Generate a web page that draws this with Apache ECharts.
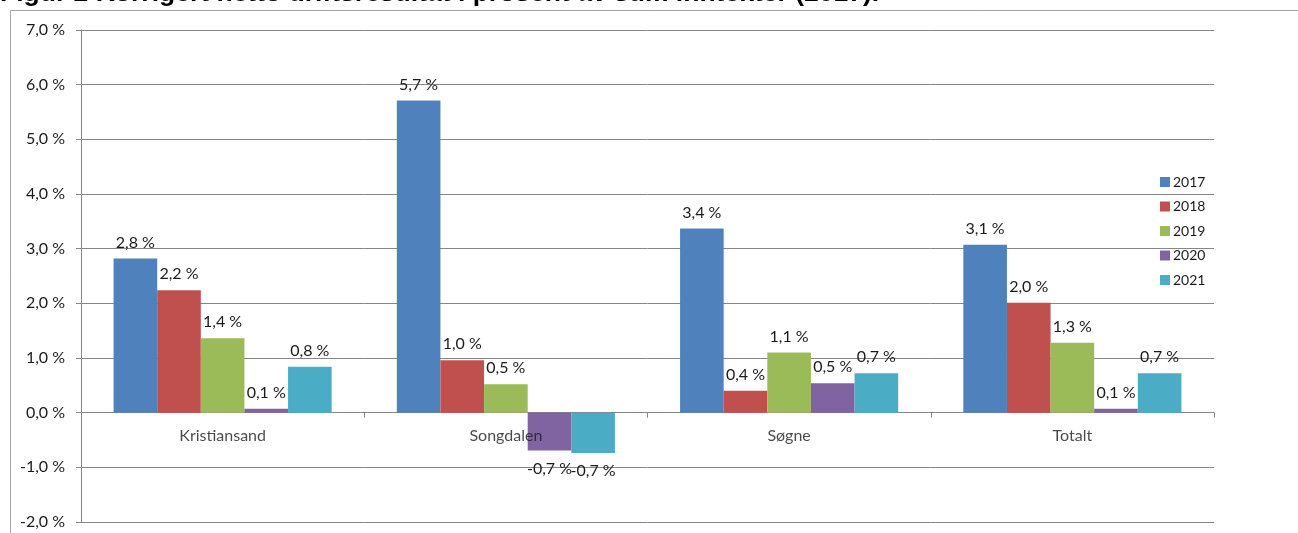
<!DOCTYPE html>
<html>
<head>
<meta charset="utf-8">
<script src="https://cdn.jsdelivr.net/npm/echarts@6/dist/echarts.min.js"></script>
<style>
html,body{margin:0;padding:0;background:#fff;}
#c{width:1298px;height:533px;}
</style>
</head>
<body>
<div id="c"></div>
<script>
const categories = ['Kristiansand', 'Songdalen', 'Søgne', 'Totalt'];
const years = ['2017', '2018', '2019', '2020', '2021'];
const v2017 = [2.82, 5.71, 3.37, 3.07];
const v2018 = [2.24, 0.96, 0.40, 2.01];
const v2019 = [1.36, 0.52, 1.10, 1.28];
const v2020 = [0.07, -0.69, 0.54, 0.07];
const v2021 = [0.84, -0.74, 0.72, 0.72];
const colors = ['#4F81BD', '#C0504D', '#9BBB59', '#8064A2', '#4BACC6'];
const titleText = 'Figur 2 Korrigert netto driftsresultat i prosent av sum inntekter (2017).';

const fmt = v => v.toFixed(1).replace('.', ',') + ' %';
const FONT = 'Lato';
const allVals = [v2017, v2018, v2019, v2020, v2021];

const series = years.map((y, i) => ({
  name: y,
  type: 'bar',
  barGap: '0%',
  barCategoryGap: '23%',
  z: 2,
  itemStyle: { color: colors[i] },
  data: allVals[i].map(v => ({
    value: v,
    label: { position: v < 0 ? 'bottom' : 'top', distance: v < 0 ? 10 : 8 }
  })),
  label: {
    show: true,
    color: '#1a1a1a',
    fontFamily: FONT,
    fontSize: 16,
    formatter: p => fmt(p.value)
  }
}));

// category names drawn at the zero line (like the original axis labels)
series.push({
  name: 'cat',
  type: 'scatter',
  symbolSize: 1,
  itemStyle: { color: 'rgba(0,0,0,0)' },
  z: 5,
  silent: true,
  data: categories.map(c => [c, 0]),
  label: {
    show: true,
    position: 'bottom',
    distance: 15,
    fontFamily: FONT,
    fontSize: 16,
    color: '#1a1a1a',
    formatter: p => p.value[0]
  }
});

const chart = echarts.init(document.getElementById('c'), null, { renderer: 'canvas' });
chart.setOption({
  animation: false,
  backgroundColor: '#fff',
  color: colors,
  graphic: [
    { type: 'rect', shape: { x: 10.5, y: 10.5, width: 1400, height: 600 }, style: { fill: 'none', stroke: '#a6a6a6', lineWidth: 1 }, z: -10 },
    { type: 'text', x: 0, y: -6, style: { text: titleText, font: 'bold 26.5px "Liberation Sans"', fill: '#000', verticalAlign: 'middle' }, z: 10 }
  ],
  grid: { left: 81, right: 84, top: 30, bottom: 11, containLabel: false, outerBoundsMode: 'none' },
  legend: {
    orient: 'vertical',
    left: 1155,
    top: 170,
    itemWidth: 10,
    itemHeight: 10,
    itemGap: 10.5,
    icon: 'rect',
    textStyle: { fontFamily: FONT, fontSize: 14, color: '#1a1a1a', padding: [0, 0, 0, -2] },
    data: years
  },
  xAxis: {
    type: 'category',
    data: categories,
    axisLine: { onZero: true, lineStyle: { color: '#868686', width: 1 } },
    axisTick: { show: true, interval: 0, alignWithLabel: false, length: 5, lineStyle: { color: '#868686' } },
    axisLabel: { show: false }
  },
  yAxis: {
    type: 'value',
    min: -2,
    max: 7,
    interval: 1,
    axisLine: { show: true, lineStyle: { color: '#868686' } },
    axisTick: { show: true, length: 5, lineStyle: { color: '#868686' } },
    splitLine: { show: true, lineStyle: { color: '#868686', width: 1 } },
    axisLabel: { fontFamily: FONT, fontSize: 16, color: '#1a1a1a', margin: 16, formatter: v => fmt(v) }
  },
  series: series
});
</script>
</body>
</html>
